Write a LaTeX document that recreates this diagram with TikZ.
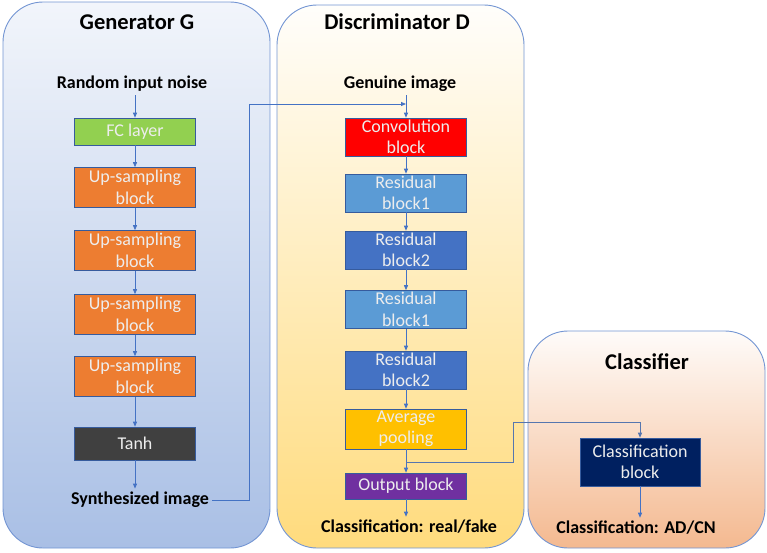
\documentclass[tikz,border=0pt]{standalone}
\usepackage{fontspec}
\setmainfont{Carlito}
\usetikzlibrary{arrows.meta}

\definecolor{linkblue}{HTML}{4472C4}
\definecolor{panelgen}{HTML}{A9BFE5}
\definecolor{paneldis}{HTML}{FFDB7D}
\definecolor{panelcls}{HTML}{F4B990}
\definecolor{fcgreen}{HTML}{92D050}
\definecolor{uporange}{HTML}{ED7D31}
\definecolor{tanhgray}{HTML}{404040}
\definecolor{convred}{HTML}{FF0000}
\definecolor{resone}{HTML}{5B9BD5}
\definecolor{restwo}{HTML}{4472C4}
\definecolor{poolgold}{HTML}{FFC000}
\definecolor{outpurple}{HTML}{7030A0}
\definecolor{clsnavy}{HTML}{002060}

\begin{document}
\begin{tikzpicture}[x=1pt,y=-1pt,
    panel/.style={draw=linkblue!75, line width=0.9pt, rounded corners=40pt},
    title/.style={font=\fontsize{22.5}{26}\selectfont\bfseries},
    label/.style={font=\fontsize{18}{21}\selectfont\bfseries},
    block/.style={draw=linkblue!80!black, line width=0.6pt, text=white!93!black,
        minimum width=121pt, minimum height=40pt, align=center, inner sep=0pt,
        font=\fontsize{18}{21.5}\selectfont},
    link/.style={draw=linkblue, line width=0.8pt, -{Triangle[length=5pt,width=4pt]}}]
    \useasboundingbox (0,0) rectangle (767,552);

    % panels
    \draw[panel, top color=white!93!linkblue, bottom color=panelgen] (3,2) rectangle (270,548);
    \draw[panel, top color=white!97!paneldis, bottom color=paneldis] (277,5) rectangle (524,548);
    \draw[panel, top color=white!95!panelcls, bottom color=panelcls] (528,331) rectangle (765,548);

    \draw (137,22) node[title] (gtitle) {Generator G};
    \draw (397,22) node[title] (dtitle) {Discriminator D};
    \draw (647,362) node[title] (ctitle) {Classifier};

    % generator
    \draw (132,84) node[label] (noise) {Random input noise};
    \draw (135,131.5) node[block, fill=fcgreen, minimum height=27pt] (fc) {FC layer};
    \draw (135,187.5) node[block, fill=uporange] (up1) {Up-sampling\\block};
    \draw (135,250.5) node[block, fill=uporange] (up2) {Up-sampling\\block};
    \draw (135,314.5) node[block, fill=uporange] (up3) {Up-sampling\\block};
    \draw (135,376.5) node[block, fill=uporange] (up4) {Up-sampling\\block};
    \draw (135,443.5) node[block, fill=tanhgray, minimum height=33pt] (tanh) {Tanh};
    \draw (140,500) node[label] (synth) {Synthesized image};

    \draw[link] (noise.south -| fc) -- (fc);
    \draw[link] (fc) -- (up1);
    \draw[link] (up1) -- (up2);
    \draw[link] (up2) -- (up3);
    \draw[link] (up3) -- (up4);
    \draw[link] (up4) -- (tanh);
    \draw[link] (tanh) -- (tanh |- synth.north);

    % discriminator
    \draw (400,84) node[label] (genuine) {Genuine image};
    \draw (406,137) node[block, fill=convred, minimum height=38pt] (conv) {Convolution\\block};
    \draw (406,193) node[block, fill=resone, minimum height=38pt] (res1) {Residual\\block1};
    \draw (406,250) node[block, fill=restwo, minimum height=38pt] (res2) {Residual\\block2};
    \draw (406,309.5) node[block, fill=resone, minimum height=38pt] (res3) {Residual\\block1};
    \draw (406,370) node[block, fill=restwo, minimum height=38pt] (res4) {Residual\\block2};
    \draw (406,429) node[block, fill=poolgold] (pool) {Average\\pooling};
    \draw (406,486) node[block, fill=outpurple, minimum height=26pt] (outb) {Output block};
    \draw (409,527) node[label] (realfake) {Classification: real/fake};
    \coordinate (gin) at (406,104);
    \coordinate (tap) at (406,462);

    \draw[link] (genuine.south -| conv) -- (conv);
    \draw[link] (conv) -- (res1);
    \draw[link] (res1) -- (res2);
    \draw[link] (res2) -- (res3);
    \draw[link] (res3) -- (res4);
    \draw[link] (res4) -- (pool);
    \draw[link] (pool) -- (outb);
    \draw[link] (outb) -- (outb |- realfake.north);

    % classifier
    \draw (640,462) node[block, fill=clsnavy, minimum width=120pt, minimum height=48pt] (clsb) {Classification\\block};
    \draw (636,528) node[label] (adcn) {Classification: AD/CN};
    \draw[link] (clsb) -- (clsb |- adcn.north);

    % cross links
    \draw[link] (synth.east) -- ++(37,0) |- (gin);
    \draw[link, draw=linkblue!70!gray] (tap) -| (513,422) -| (clsb.north);
\end{tikzpicture}
\end{document}
